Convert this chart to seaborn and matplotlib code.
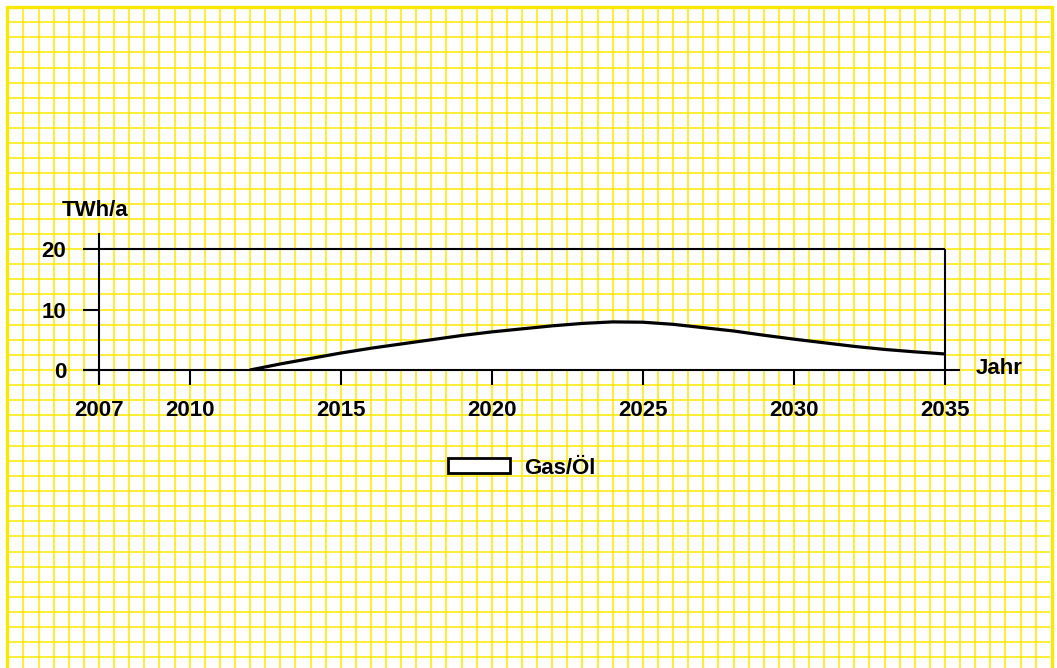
import numpy as np
import matplotlib
matplotlib.use("Agg")
import matplotlib.pyplot as plt
import seaborn as sns
from matplotlib.patches import Patch, Rectangle

# Values
years = [2012, 2013, 2014, 2015, 2016, 2017, 2018, 2019, 2020, 2021, 2022, 2023,
         2024, 2025, 2026, 2027, 2028, 2029, 2030, 2031, 2032, 2033, 2034, 2035]
gas_oel = [0.0, 1.0, 1.9, 2.8, 3.6, 4.3, 5.0, 5.7, 6.3, 6.8, 7.3, 7.7,
           7.95, 7.9, 7.55, 7.0, 6.45, 5.75, 5.1, 4.5, 3.9, 3.4, 3.0, 2.65]
xticks = [2007, 2010, 2015, 2020, 2025, 2030, 2035]
yticks = [0, 10, 20]
series_name = "Gas/Öl"

sns.set_style("white")
plt.rcParams["font.family"] = ["Liberation Sans", "DejaVu Sans"]
plt.rcParams["font.weight"] = "bold"
plt.rcParams["text.color"] = "black"
plt.rcParams["xtick.labelcolor"] = "black"
plt.rcParams["ytick.labelcolor"] = "black"

W, H = 1057, 668
fig = plt.figure(figsize=(W / 100, H / 100), dpi=100)
fig.patch.set_facecolor("white")

# pixel geometry of the plot area
x0_px, x1_px = 99, 945
y0_px, y1_px = 370, 249
ppy = (x1_px - x0_px) / (2035 - 2007)
ppv = (y0_px - y1_px) / 20

yellow = "#ffe800"

# background graph paper (same data scale as the chart)
bg = fig.add_axes([0, 0, 1, 1])
bg.set_xlim(2007 - x0_px / ppy, 2007 + (W - x0_px) / ppy)
bg.set_ylim(-(H - y0_px) / ppv, y0_px / ppv)
bg.axis("off")
top_v = (y0_px - 7) / ppv
left_x = 2007 - (x0_px - 8) / ppy
right_x = 2007 + (1050 - x0_px) / ppy
bg.vlines(np.arange(2004.5, 2038.01, 0.5), -60, top_v, color=yellow, lw=1.1)
bg.hlines(np.arange(-47.5, 57.51, 2.5), left_x, right_x, color=yellow, lw=1.1)
fig.patches.append(Rectangle((6.5 / W, -0.05), (1051.5 - 6.5) / W, 1 - 6.5 / H + 0.05,
                             transform=fig.transFigure, fill=False,
                             edgecolor=yellow, lw=2.4))

ax = fig.add_axes([x0_px / W, (H - y0_px) / H, (x1_px - x0_px) / W, (y0_px - y1_px) / H])
ax.set_facecolor("none")
ax.set_xlim(2007, 2035)
ax.set_ylim(0, 20)
for s in ax.spines.values():
    s.set_visible(False)

ax.fill_between(years, gas_oel, 0, color="white", zorder=2)
sns.lineplot(x=years, y=gas_oel, ax=ax, color="black", lw=2.3, zorder=3)

# axis frame lines
ext_x = 16 / ppy
ext_y = 15 / ppv
lk = dict(color="black", lw=1.5, clip_on=False, zorder=4, solid_capstyle="butt")
ax.plot([2007 - ext_x, 2035 + 15 / ppy], [0, 0], **lk)
ax.plot([2007, 2007], [-ext_y, 20 + 16 / ppv], **lk)
ax.plot([2007, 2035], [20, 20], **lk)
ax.plot([2035, 2035], [0, 20], **lk)

ax.set_xticks(xticks)
ax.set_xticklabels([str(t) for t in xticks])
ax.set_yticks(yticks)
ax.set_yticklabels([str(t) for t in yticks])
ax.tick_params(axis="x", direction="out", length=15 * 0.72, width=1.5, color="black",
               pad=11, labelsize=16, bottom=True, labelcolor="black")
ax.tick_params(axis="y", direction="out", length=16 * 0.72, width=1.5, color="black",
               pad=12, labelsize=16, left=True, labelcolor="black")
for lab in ax.get_xticklabels() + ax.get_yticklabels():
    lab.set_fontweight("bold")
ax.set_xlabel("")
ax.set_ylabel("")

fig.text(62 / W, 1 - 211 / H, "TWh/a", ha="left", va="center", fontsize=16,
         fontweight="bold", color="black")
fig.text(976 / W, 1 - 368 / H, "Jahr", ha="left", va="center", fontsize=16,
         fontweight="bold", color="black")

fs = 16 * 100 / 72
leg = ax.legend(handles=[Patch(facecolor="white", edgecolor="black", lw=2, label=series_name)],
                loc="center", bbox_to_anchor=(521.5 / W, 1 - 468 / H), bbox_transform=fig.transFigure,
                frameon=False, handlelength=62 / fs, handleheight=14 / fs, handletextpad=14 / fs,
                prop={"size": 16, "weight": "bold"})
for t in leg.get_texts():
    t.set_color("black")

fig.savefig("out.png", dpi=100)
